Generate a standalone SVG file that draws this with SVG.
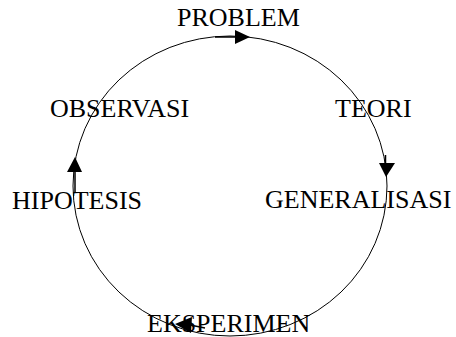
<svg xmlns="http://www.w3.org/2000/svg" width="456" height="337" viewBox="0 0 456 337">
<style>
.lbl{font-family:"Liberation Serif","Times New Roman",serif;font-size:26px;fill:#000}
.ln{fill:none;stroke:#000;stroke-width:1}
.sh{stroke:#000;stroke-width:1.5;fill:none}
.ah{fill:#000;stroke:none}
</style>
<rect width="456" height="337" fill="#fff"/>
<g id="connectors">
<ellipse class="ln" cx="230" cy="186" rx="157" ry="150"/>
<line class="sh" x1="215" y1="37" x2="237" y2="37"/>
<polygon class="ah" points="235,30 250,37 235,44"/>
<line class="sh" x1="385.5" y1="155" x2="385.5" y2="165"/>
<polygon class="ah" points="379,163 395,163 386,177"/>
<line class="sh" x1="75" y1="170" x2="75" y2="192"/>
<polygon class="ah" points="67,172 82,172 75,157"/>
<line class="sh" x1="190" y1="325" x2="205" y2="328"/>
<polygon class="ah" points="192,317 191,333 175,324"/>
</g>
<g id="problem"><text class="lbl" x="177" y="26">PROBLEM</text></g>
<g id="teori"><text class="lbl" x="335" y="117">TEORI</text></g>
<g id="generalisasi"><text class="lbl" x="265" y="208">GENERALISASI</text></g>
<g id="eksperimen"><text class="lbl" x="147" y="332">EKSPERIMEN</text></g>
<g id="hipotesis"><text class="lbl" x="12" y="209">HIPOTESIS</text></g>
<g id="observasi"><text class="lbl" x="50" y="117">OBSERVASI</text></g>
</svg>
